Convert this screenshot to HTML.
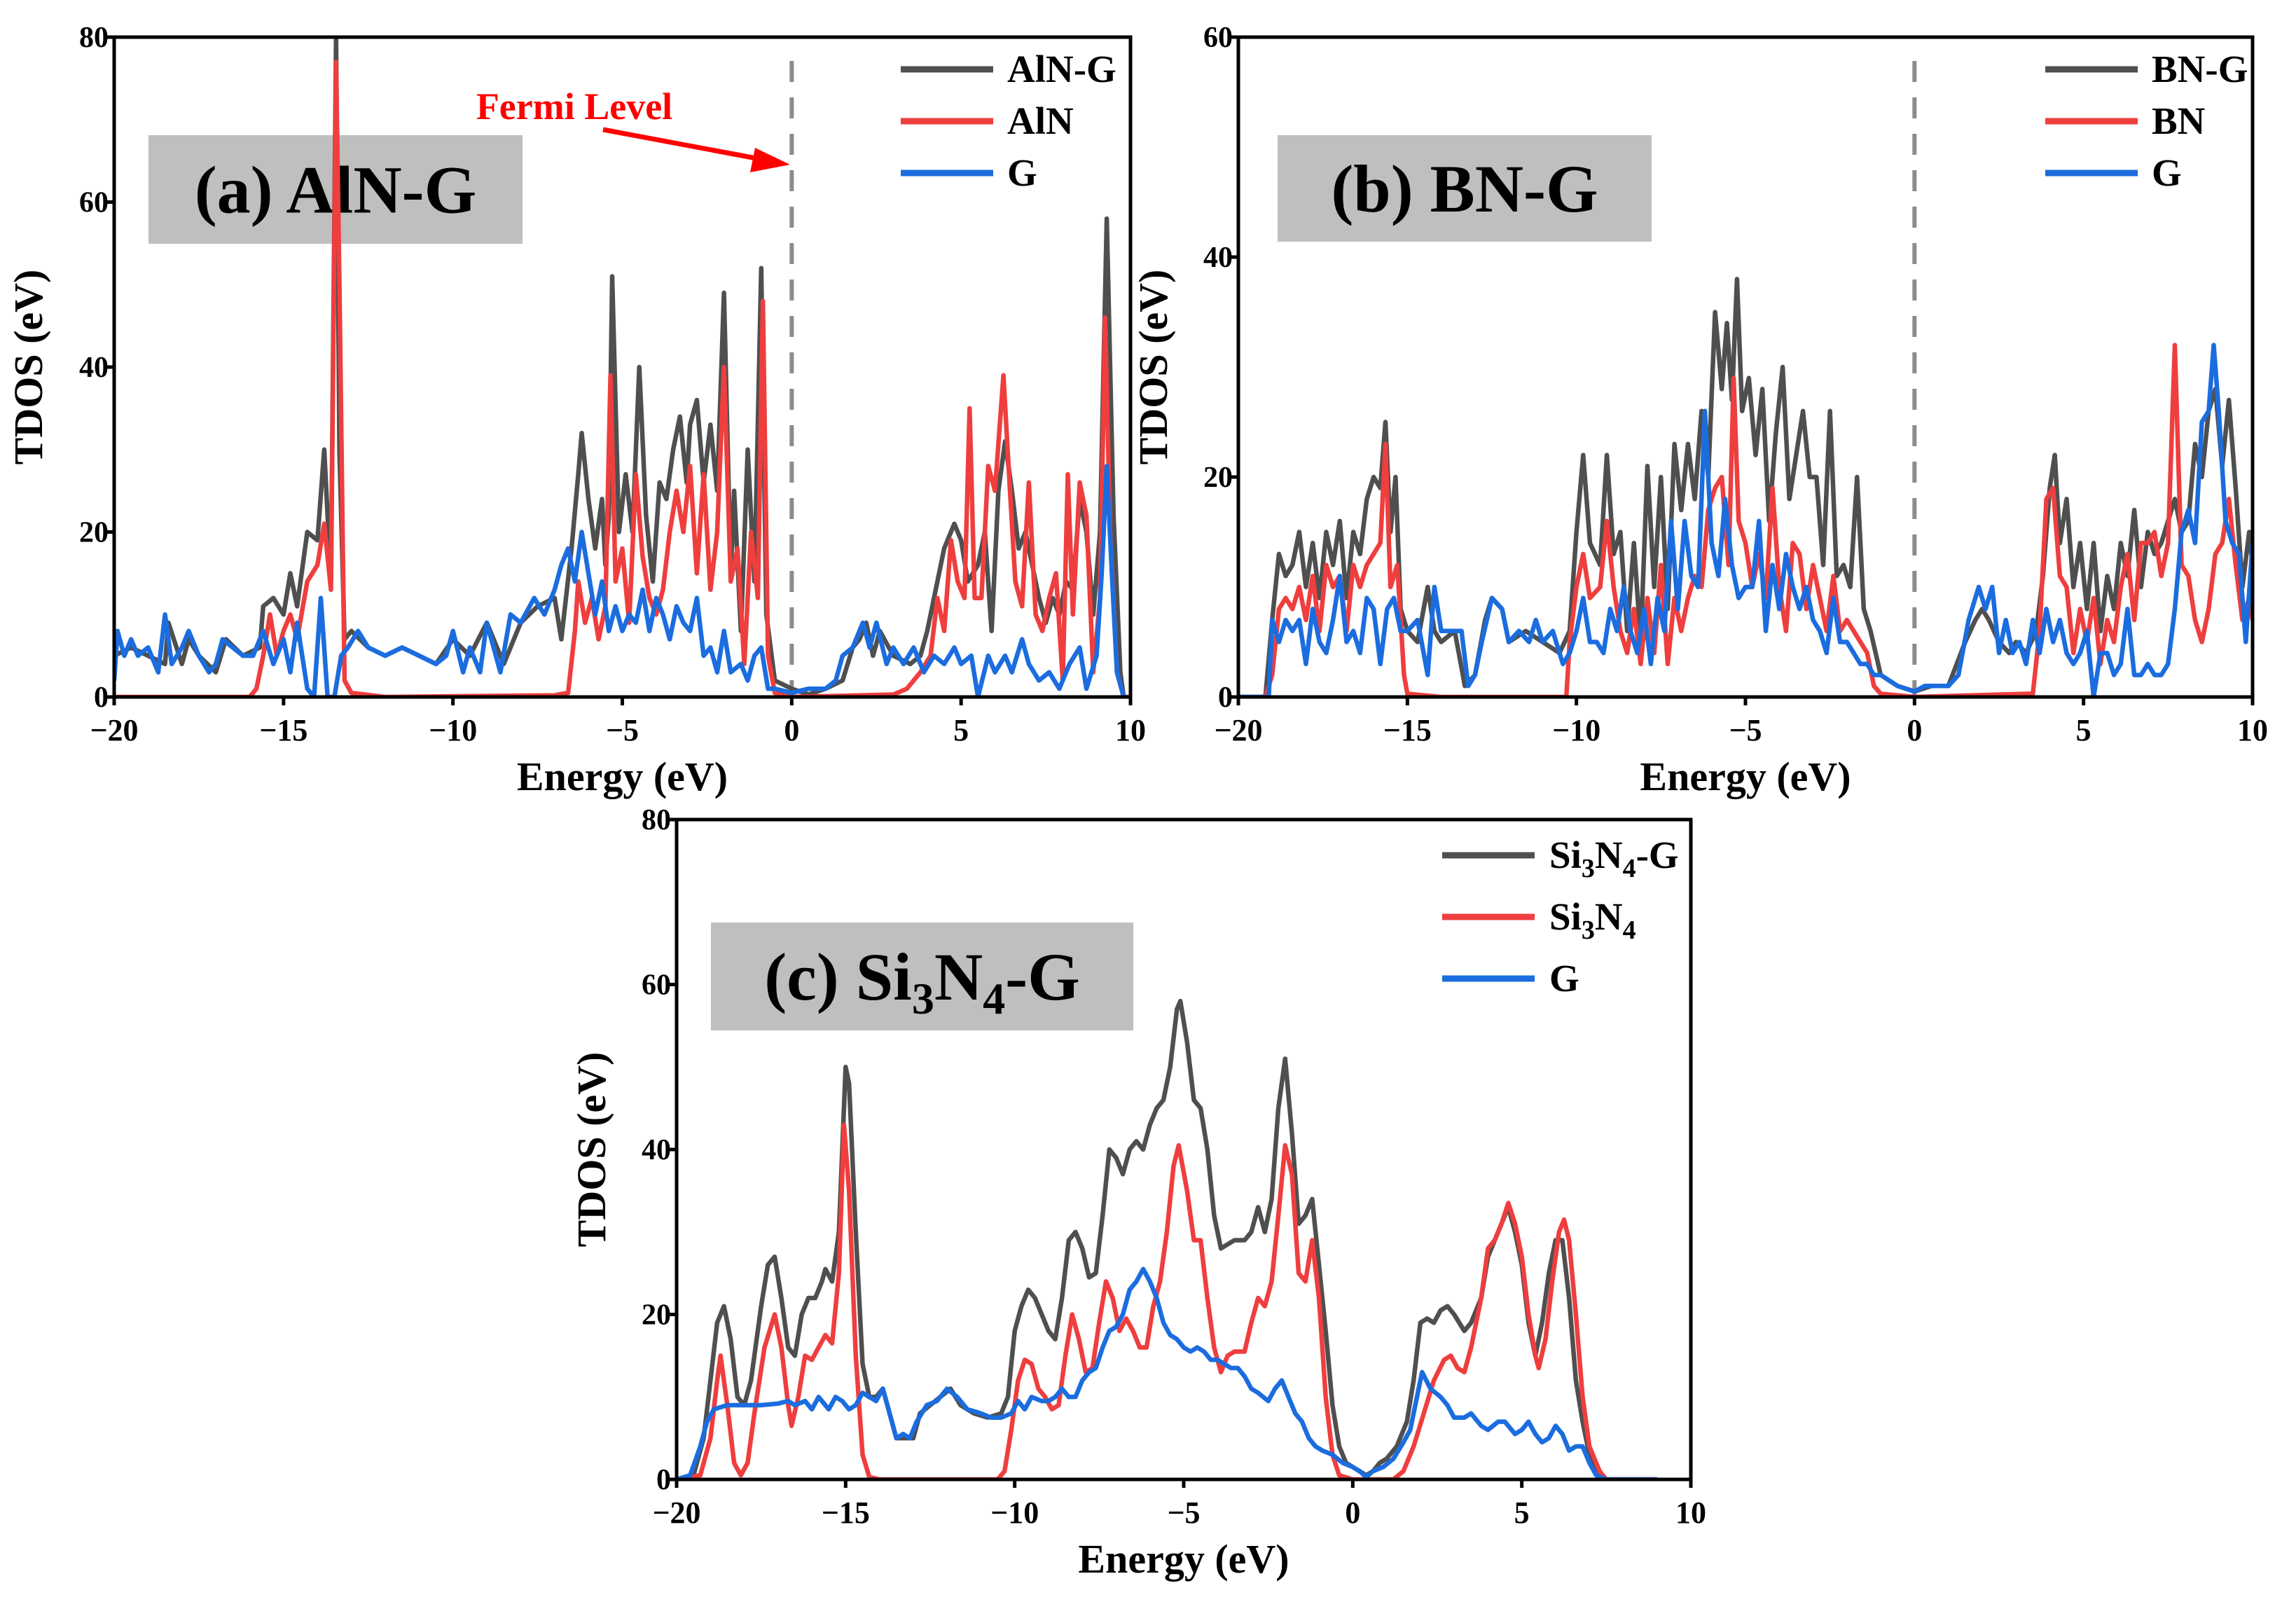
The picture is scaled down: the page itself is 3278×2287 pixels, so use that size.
<!DOCTYPE html>
<html><head><meta charset="utf-8"><style>
html,body{margin:0;padding:0;background:#fff;}
svg{display:block;font-family:"Liberation Serif",serif;font-weight:bold;}
</style></head><body>
<svg id="fig" width="3278" height="2287" viewBox="0 0 3278 2287" xmlns="http://www.w3.org/2000/svg"></svg>
<script>
// ---------- Panel (a) AlN-G ----------
const aGrayE=[-20,-19.5,-19,-18.5,-18.4,-18,-17.8,-17.5,-17,-16.7,-16.2,-15.7,-15.6,-15.3,-15,-14.8,-14.6,-14.3,-14,-13.8,-13.6,-13.45,-13.35,-13.2,-13,-12.5,-12,-11.5,-11,-10.5,-10,-9.5,-9,-8.5,-8,-7.5,-7,-6.8,-6.5,-6.3,-6.2,-6,-5.8,-5.6,-5.5,-5.4,-5.3,-5.1,-4.9,-4.7,-4.5,-4.3,-4.1,-3.9,-3.7,-3.5,-3.3,-3.1,-3,-2.8,-2.6,-2.4,-2.2,-2,-1.8,-1.7,-1.5,-1.3,-1.1,-0.9,-0.75,-0.5,0,0.5,1,1.5,1.8,2,2.2,2.4,2.6,3,3.5,3.8,4,4.2,4.5,4.8,5,5.2,5.5,5.7,5.9,6.1,6.3,6.5,6.7,6.9,7.1,7.3,7.5,7.7,7.9,8.1,8.3,8.5,8.7,8.9,9.1,9.3,9.5,9.7,9.8];
const aGrayV=[5,6,5,4,9,4,7,5,3,7,5,6,11,12,10,15,11,20,19,30,14,80,30,7,8,6,5,6,5,4,7,5,9,4,9,11,12,7,18,27,32,24,18,24,16,22,51,20,27,20,40,22,14,26,24,30,34,26,33,36,26,33,25,49,15,25,8,30,14,52,10,2,1,0.3,1,2,6,7,9,5,8,5,4,5,8,12,18,21,19,14,16,20,8,25,31,25,18,20,16,12,9,12,10,14,13,24,20,10,20,58,22,3,0];
const aRedE=[-20,-16,-15.8,-15.6,-15.4,-15.2,-15,-14.8,-14.6,-14.3,-14,-13.8,-13.6,-13.45,-13.35,-13.2,-13,-12,-7,-6.6,-6.4,-6.3,-6.1,-5.9,-5.7,-5.5,-5.35,-5.2,-5,-4.8,-4.6,-4.4,-4.2,-4,-3.8,-3.6,-3.4,-3.2,-3,-2.8,-2.6,-2.4,-2.2,-2,-1.8,-1.6,-1.4,-1.2,-1,-0.85,-0.7,-0.5,0,3,3.4,3.8,4.1,4.3,4.5,4.7,4.9,5.1,5.25,5.4,5.6,5.8,6,6.25,6.4,6.6,6.8,7,7.2,7.4,7.6,7.8,8,8.15,8.3,8.5,8.7,8.9,9.1,9.25,9.4,9.6,9.8,10];
const aRedV=[0,0,1,5,10,5,8,10,7,14,16,21,13,77,50,2,0.5,0,0.2,0.5,8,14,9,12,7,11,39,14,18,9,27,17,12,10,13,20,25,20,28,15,27,13,20,40,14,18,4,20,12,48,5,0.5,0,0.3,1,3,5,12,8,19,14,12,35,12,12,28,25,39,28,14,11,26,10,8,12,15,2,27,10,26,22,3,12,46,20,3,0,0];
const aBlueE=[-20,-19.9,-19.7,-19.5,-19.3,-19,-18.7,-18.5,-18.3,-18,-17.8,-17.5,-17.2,-17,-16.8,-16.5,-16.2,-15.9,-15.6,-15.3,-15,-14.8,-14.6,-14.3,-14.1,-13.9,-13.7,-13.5,-13.3,-13.1,-12.8,-12.5,-12,-11.5,-11,-10.5,-10.2,-10,-9.7,-9.5,-9.2,-9,-8.6,-8.3,-8,-7.6,-7.3,-7,-6.8,-6.6,-6.4,-6.2,-6,-5.8,-5.6,-5.4,-5.2,-5,-4.8,-4.6,-4.4,-4.2,-4,-3.8,-3.6,-3.4,-3.2,-3,-2.8,-2.6,-2.4,-2.2,-2,-1.8,-1.5,-1.3,-1.1,-0.9,-0.7,-0.5,0,0.5,1,1.3,1.5,1.8,2.1,2.3,2.5,2.8,3,3.3,3.6,3.9,4.2,4.5,4.8,5,5.3,5.5,5.8,6,6.3,6.5,6.8,7,7.3,7.6,7.9,8.2,8.5,8.7,9,9.15,9.3,9.45,9.6,9.8];
const aBlueV=[2,8,5,7,5,6,3,10,4,6,8,5,3,4,7,6,5,5,8,4,7,3,9,1,0,12,0,0,5,6,8,6,5,6,5,4,5,8,3,6,3,9,3,10,9,12,10,13,16,18,14,20,15,10,14,8,11,8,10,9,13,8,12,10,7,11,9,8,12,5,6,3,8,3,4,2,5,6,1,1,0.5,1,1,2,5,6,9,6,9,4,6,4,6,3,5,4,6,4,5,0,5,3,5,3,7,4,2,3,1,4,6,1,5,15,28,15,3,0];
// ---------- Panel (b) BN-G ----------
const bGrayE=[-20,-19.2,-19,-18.8,-18.6,-18.4,-18.2,-18,-17.8,-17.6,-17.4,-17.2,-17,-16.8,-16.6,-16.4,-16.2,-16,-15.8,-15.65,-15.5,-15.35,-15.2,-15,-14.7,-14.4,-14.2,-14,-13.6,-13.3,-13,-12.7,-12.5,-12.2,-12,-11.5,-11,-10.5,-10.2,-10,-9.8,-9.6,-9.3,-9.1,-8.9,-8.7,-8.5,-8.3,-8.1,-7.9,-7.7,-7.5,-7.3,-7.1,-6.9,-6.7,-6.5,-6.3,-6.1,-5.9,-5.7,-5.55,-5.4,-5.25,-5.1,-4.9,-4.7,-4.5,-4.3,-4.1,-3.9,-3.7,-3.5,-3.3,-3.1,-2.9,-2.7,-2.5,-2.3,-2.1,-1.9,-1.7,-1.5,-1.3,-1,-0.5,0,0.5,1,1.5,1.8,2,2.2,2.5,2.8,3,3.3,3.6,3.8,4,4.15,4.3,4.5,4.7,4.9,5.1,5.3,5.5,5.7,5.9,6.1,6.3,6.5,6.7,6.9,7.1,7.3,7.5,7.7,7.9,8.1,8.3,8.5,8.7,8.9,9.1,9.3,9.5,9.7,9.9,10];
const bGrayV=[0,0,7,13,11,12,15,10,14,9,15,12,16,9,15,13,18,20,19,25,15,20,8,6,5,10,6,5,6,1,2,7,9,8,5,6,5,4,6,15,22,14,12,22,13,15,6,14,5,21,10,20,8,23,17,23,18,26,20,35,28,34,27,38,26,29,22,28,16,24,30,18,22,26,20,20,12,26,11,12,10,20,8,6,2,1,0.5,1,1,5,7,8,7,5,4,5,4,6,11,19,22,14,18,10,14,8,14,6,11,8,14,11,17,10,15,13,14,16,18,15,16,23,20,26,28,21,27,19,10,15,12];
const bRedE=[-20,-19.2,-19,-18.8,-18.6,-18.4,-18.2,-18,-17.8,-17.6,-17.4,-17.2,-17,-16.8,-16.6,-16.4,-16.2,-16,-15.8,-15.65,-15.5,-15.3,-15.1,-15,-14,-10.3,-10.2,-10,-9.8,-9.6,-9.3,-9.1,-8.9,-8.7,-8.5,-8.3,-8.1,-7.9,-7.7,-7.5,-7.3,-7.1,-6.9,-6.7,-6.5,-6.3,-6.1,-5.9,-5.7,-5.5,-5.35,-5.2,-5,-4.8,-4.6,-4.4,-4.2,-4,-3.8,-3.6,-3.4,-3.2,-3,-2.8,-2.6,-2.4,-2.2,-2,-1.8,-1.6,-1.4,-1.2,-1,0,3.5,3.7,3.9,4.1,4.3,4.5,4.7,4.9,5.1,5.3,5.5,5.7,5.9,6.1,6.3,6.5,6.7,6.9,7.1,7.3,7.5,7.7,7.9,8.1,8.3,8.5,8.7,8.9,9.1,9.3,9.5,9.7,9.9,10];
const bRedV=[0,0,2,8,9,8,10,7,11,6,12,10,11,6,12,10,12,13,14,23,10,12,2,0.3,0,0,5,10,13,9,10,16,10,6,4,8,3,9,4,12,3,9,6,9,11,10,17,19,20,12,29,16,14,10,13,9,19,10,6,14,13,8,12,9,6,11,6,7,6,5,4,1,0.3,0,0.3,6,18,19,11,10,4,8,5,9,3,7,5,10,13,7,14,14,15,11,14,32,12,11,7,5,8,13,14,18,12,7,9,7];
const bBlueE=[-20,-19.1,-19,-18.8,-18.6,-18.4,-18.2,-18,-17.8,-17.6,-17.4,-17.2,-17,-16.8,-16.6,-16.4,-16.2,-16,-15.8,-15.6,-15.4,-15.2,-15,-14.7,-14.4,-14.2,-14,-13.7,-13.4,-13.2,-13,-12.8,-12.5,-12.2,-12,-11.7,-11.4,-11.2,-11,-10.7,-10.4,-10.2,-10,-9.8,-9.6,-9.4,-9.2,-9,-8.8,-8.6,-8.4,-8.2,-8,-7.8,-7.6,-7.4,-7.2,-7,-6.8,-6.6,-6.4,-6.2,-6,-5.8,-5.6,-5.4,-5.2,-5,-4.8,-4.6,-4.4,-4.2,-4,-3.8,-3.6,-3.4,-3.2,-3,-2.8,-2.6,-2.4,-2.2,-2,-1.8,-1.6,-1.4,-1.2,-1,-0.5,0,0.3,1,1.3,1.6,1.9,2.1,2.3,2.5,2.7,2.9,3.1,3.3,3.5,3.7,3.9,4.1,4.3,4.5,4.7,4.9,5.1,5.3,5.5,5.7,5.9,6.1,6.3,6.5,6.7,6.9,7.1,7.3,7.5,7.7,7.9,8.1,8.3,8.5,8.7,8.85,9,9.2,9.4,9.6,9.8,10];
const bBlueV=[0,0,7,5,7,6,7,3,8,5,4,7,11,5,6,4,9,8,3,8,9,6,6,7,2,10,6,6,6,1,2,5,9,8,5,6,5,7,5,6,3,4,6,9,5,5,4,8,6,10,6,4,8,3,9,6,16,8,16,11,10,26,14,11,18,12,9,10,10,16,6,12,8,13,10,8,10,7,6,4,9,5,5,4,3,3,2,2,1,0.5,1,1,2,7,10,8,10,4,7,4,5,3,7,4,8,5,7,4,3,4,6,0,4,4,2,3,8,2,2,3,2,2,3,8,15,17,14,25,26,32,26,16,14,13,5,14];
// ---------- Panel (c) Si3N4-G ----------
const cGrayE=[-20,-19.5,-19.2,-19,-18.8,-18.6,-18.4,-18.2,-18,-17.8,-17.5,-17.3,-17.1,-16.9,-16.7,-16.5,-16.3,-16.1,-15.9,-15.7,-15.6,-15.4,-15.2,-15,-14.9,-14.7,-14.5,-14.3,-14.1,-13.9,-13.7,-13.5,-13.2,-13,-12.8,-12.5,-12.2,-11.9,-11.6,-11.2,-10.8,-10.4,-10.2,-10,-9.8,-9.6,-9.4,-9.2,-9,-8.8,-8.6,-8.4,-8.2,-8,-7.8,-7.6,-7.4,-7.2,-7,-6.8,-6.6,-6.4,-6.2,-6,-5.8,-5.6,-5.4,-5.2,-5.1,-4.9,-4.7,-4.5,-4.3,-4.1,-3.9,-3.7,-3.5,-3.2,-3,-2.8,-2.6,-2.4,-2.2,-2,-1.8,-1.6,-1.4,-1.2,-1,-0.8,-0.6,-0.4,-0.2,0,0.2,0.4,0.6,0.8,1,1.3,1.6,1.8,2,2.2,2.4,2.6,2.8,3,3.3,3.5,3.8,4,4.2,4.4,4.6,4.8,5,5.2,5.4,5.6,5.8,6,6.2,6.4,6.6,6.8,7,7.2,7.5,9];
const cGrayV=[0,0.5,5,12,19,21,17,10,9,12,21,26,27,22,16,15,20,22,22,24,25.5,24,30,50,48,30,14,10,10,11,8,5,5,5,8,9,10,11,9,8,7.5,8,10,18,21,23,22,20,18,17,22,29,30,28,24.5,25,32,40,39,37,40,41,40,43,45,46,50,57,58,53,46,45,40,32,28,28.5,29,29,30,33,30,34,45,51,42,31,32,34,26,18,9,4,2,1.5,1,0.5,1,2,2.5,4,7,12,19,19.5,19,20.5,21,20,18,19,22,27,29,31,33,30,26,19,15,19,25,29,29,22,12,7,3,1,0,0];
const cRedE=[-20,-19.3,-19,-18.8,-18.7,-18.5,-18.3,-18.1,-17.9,-17.7,-17.4,-17.1,-16.9,-16.7,-16.6,-16.4,-16.2,-16,-15.8,-15.6,-15.4,-15.2,-15.05,-14.9,-14.7,-14.5,-14.3,-14,-10.5,-10.3,-10.1,-9.9,-9.7,-9.5,-9.3,-9.1,-8.9,-8.7,-8.5,-8.3,-8.1,-7.9,-7.7,-7.5,-7.3,-7.1,-6.9,-6.7,-6.5,-6.3,-6.1,-5.9,-5.7,-5.5,-5.3,-5.15,-4.9,-4.7,-4.5,-4.3,-4.1,-3.9,-3.7,-3.5,-3.2,-3,-2.8,-2.6,-2.4,-2.2,-2,-1.8,-1.6,-1.4,-1.2,-1,-0.8,-0.6,-0.4,0,1.2,1.5,1.8,2.1,2.4,2.7,2.9,3.1,3.3,3.5,3.8,4,4.2,4.4,4.6,4.8,5,5.2,5.4,5.5,5.7,5.9,6.1,6.25,6.4,6.6,6.8,7,7.3,7.5,9];
const cRedV=[0,0.5,5,12,15,9,2,0.5,2,8,16,20,16,9,6.5,10,15,14.5,16,17.5,16.5,25,43,35,15,3,0.3,0,0,1,6,12,14.5,14,11,10,8.5,9,15,20,17,13,13.5,19,24,22,18,19.5,18,16,16,21,24,30,38,40.5,35,29,29,22,16,13,15,15.5,15.5,19,22,21,24,32,40.5,37,25,24,29,22,10,3,0.5,0,0,1,4,8,12,14.5,15,13.5,13,16,22,28,29,31,33.5,31,27,20,15,13.5,17,24,30,31.5,29,20,10,4,1,0,0];
const cBlueE=[-20,-19.6,-19.3,-19.1,-18.9,-18.5,-18,-17.5,-17,-16.7,-16.5,-16.2,-16,-15.8,-15.5,-15.3,-15.1,-14.9,-14.7,-14.5,-14.3,-14.1,-13.9,-13.7,-13.5,-13.3,-13.1,-12.9,-12.6,-12.3,-12,-11.7,-11.4,-11,-10.7,-10.4,-10.1,-9.9,-9.7,-9.5,-9.2,-9,-8.8,-8.6,-8.4,-8.2,-8,-7.8,-7.6,-7.4,-7.2,-7,-6.8,-6.6,-6.4,-6.2,-6,-5.8,-5.6,-5.4,-5.2,-5,-4.8,-4.6,-4.4,-4.2,-4,-3.8,-3.6,-3.4,-3.2,-3,-2.8,-2.5,-2.3,-2.1,-1.9,-1.7,-1.5,-1.3,-1.1,-0.9,-0.6,-0.3,0,0.2,0.4,0.6,0.9,1.2,1.5,1.7,1.9,2.05,2.3,2.6,2.8,3,3.3,3.5,3.8,4,4.3,4.5,4.8,5,5.2,5.4,5.6,5.8,6,6.2,6.4,6.6,6.8,7,7.2,7.5,9];
const cBlueV=[0,0.5,4,7,8.5,9,9,9,9.2,9.5,9,9.5,8.5,10,8.5,10,9.5,8.5,9,10.5,10,9.5,11,8,5,5.5,5,7,9,9.5,11,10,8.5,8,7.5,7.5,8,9.5,8.5,10,9.5,9.5,10,11,10,10,12,13,13.5,16,18,18.5,20,23,24,25.5,24,22,19,17.5,17,16,15.5,16,15.5,14.5,14.5,14,13.5,13.5,12.5,11,10.5,9.5,11,12,10,8,7,5,4,3.5,3,2,1.5,1,0.3,1,1.5,2.5,4.5,6,10,13,11,10,9,7.5,7.5,8,6.5,6,7,7,5.5,6,7,5.5,4.5,5,6.5,5.5,3.5,4,4,2,0.5,0,0];

const yTicksA=[0,20,40,60,80];
const yTicksB=[0,20,40,60];
const yTicksC=[0,20,40,60,80];
const xTicks=[-20,-15,-10,-5,0,5,10];

const NS='http://www.w3.org/2000/svg';
const svg=document.getElementById('fig');
const GRAY='#4f4f4f',RED='#ef3e3e',BLUE='#1b6ddf';
function mk(tag,attrs,parent){const e=document.createElementNS(NS,tag);for(const k in attrs)e.setAttribute(k,attrs[k]);(parent||svg).appendChild(e);return e;}

function panel(P){
  const g=mk('g',{});
  
  
  const X=e=>P.l+(e-(-20))/30*(P.r-P.l);
  const Y=v=>P.b-v/P.ymax*(P.b-P.t);
  const box=mk('rect',{x:P.box[0],y:P.box[1],width:P.box[2],height:P.box[3],fill:'#bfbfbf'},g);
  
  
  const lt=mk('text',{x:P.box[0]+P.box[2]/2,y:P.box[1]+P.box[3]/2+33,'font-size':96,'text-anchor':'middle',fill:'#000'},g);
  lt.innerHTML=P.label;
  
  
  if(P.fermi){
    const f=mk('line',{x1:X(0),x2:X(0),y1:P.t+34,y2:P.b,stroke:'#8c8c8c','stroke-width':6,'stroke-dasharray':'30,22'},g);
    
    
  }
  const clip='clip'+P.id;
  const cp=mk('clipPath',{id:clip},g);
  mk('rect',{x:P.l,y:P.t,width:P.r-P.l,height:P.b-P.t},cp);
  P.series.forEach(s=>{
    const pts=s.e.map((e,i)=>X(e).toFixed(1)+','+Y(s.v[i]).toFixed(1)).join(' ');
    const pl=mk('polyline',{points:pts,fill:'none',stroke:s.c,'stroke-width':6.5,'stroke-linejoin':'round','clip-path':'url(#'+clip+')'},g);
    
    
  });
  const fr=mk('rect',{x:P.l,y:P.t,width:P.r-P.l,height:P.b-P.t,fill:'none',stroke:'#000','stroke-width':5},g);
  
  
  P.yt.forEach(v=>{
    mk('line',{x1:P.l-12,x2:P.l,y1:Y(v),y2:Y(v),stroke:'#000','stroke-width':5},g);
    const t=mk('text',{x:P.l-8,y:Y(v)+14,'font-size':42,'text-anchor':'end'},g);
    t.textContent=v;
    
    
  });
  xTicks.forEach(v=>{
    mk('line',{x1:X(v),x2:X(v),y1:P.b,y2:P.b+12,stroke:'#000','stroke-width':5},g);
    const t=mk('text',{x:X(v),y:P.b+62,'font-size':44,'text-anchor':'middle'},g);
    t.textContent=(v<0?'\u2212'+(-v):v);
    
    
  });
  const xt=mk('text',{x:(P.l+P.r)/2,y:P.b+133,'font-size':58,'text-anchor':'middle'},g);
  xt.textContent='Energy (eV)';
  
  
  const cy=(P.t+P.b)/2;
  const yt=mk('text',{x:P.ylx,y:cy,'font-size':58,'text-anchor':'middle',transform:'rotate(-90 '+P.ylx+' '+cy+')'},g);
  yt.textContent='TDOS (eV)';
  
  
  P.series.forEach((s,i)=>{
    const ly=P.leg[2]+i*P.leg[3];
    const ll=mk('line',{x1:P.leg[0],x2:P.leg[0]+132,y1:ly,y2:ly,stroke:s.c,'stroke-width':9},g);
    
    
    const lt2=mk('text',{x:P.leg[1],y:ly+18,'font-size':55},g);
    lt2.innerHTML=s.lab;
    
    
  });
}

panel({id:'a',name:'panel-a-aln-g',l:163,r:1614,t:53,b:995,ymax:80,yt:yTicksA,fermi:true,ylx:60,
  box:[212,193,534,155],label:'(a) AlN-G',leg:[1286,1438,99,74],
  series:[{e:aGrayE,v:aGrayV,c:GRAY,n:'aln-g-line',lab:'AlN-G'},{e:aRedE,v:aRedV,c:RED,n:'aln-line',lab:'AlN'},{e:aBlueE,v:aBlueV,c:BLUE,n:'g-line-a',lab:'G'}]});
panel({id:'b',name:'panel-b-bn-g',l:1768,r:3216,t:53,b:995,ymax:60,yt:yTicksB,fermi:true,ylx:1666,
  box:[1824,193,534,152],label:'(b) BN-G',leg:[2920,3072,99,74],
  series:[{e:bGrayE,v:bGrayV,c:GRAY,n:'bn-g-line',lab:'BN-G'},{e:bRedE,v:bRedV,c:RED,n:'bn-line',lab:'BN'},{e:bBlueE,v:bBlueV,c:BLUE,n:'g-line-b',lab:'G'}]});
panel({id:'c',name:'panel-c-si3n4-g',l:966,r:2414,t:1170,b:2112,ymax:80,yt:yTicksC,fermi:false,ylx:864,
  box:[1015,1317,603,154],label:'(c) Si<tspan font-size="64" dy="20">3</tspan><tspan dy="-20">N</tspan><tspan font-size="64" dy="20">4</tspan><tspan dy="-20">-G</tspan>',leg:[2059,2212,1221,88],
  series:[{e:cGrayE,v:cGrayV,c:GRAY,n:'si3n4-g-line',lab:'Si<tspan font-size="38" dy="13">3</tspan><tspan dy="-13">N</tspan><tspan font-size="38" dy="13">4</tspan><tspan dy="-13">-G</tspan>'},{e:cRedE,v:cRedV,c:RED,n:'si3n4-line',lab:'Si<tspan font-size="38" dy="13">3</tspan><tspan dy="-13">N</tspan><tspan font-size="38" dy="13">4</tspan>'},{e:cBlueE,v:cBlueV,c:BLUE,n:'g-line-c',lab:'G'}]});

const ft=mk('text',{x:820,y:170,'font-size':54,fill:'#ff0000','text-anchor':'middle'});
ft.textContent='Fermi Level';


const ar=mk('line',{x1:861,y1:185,x2:1085,y2:227,stroke:'#ff0000','stroke-width':7});


const ah=mk('polygon',{points:'1128,235 1078,211 1071,246',fill:'#ff0000'});


</script>
</body></html>
